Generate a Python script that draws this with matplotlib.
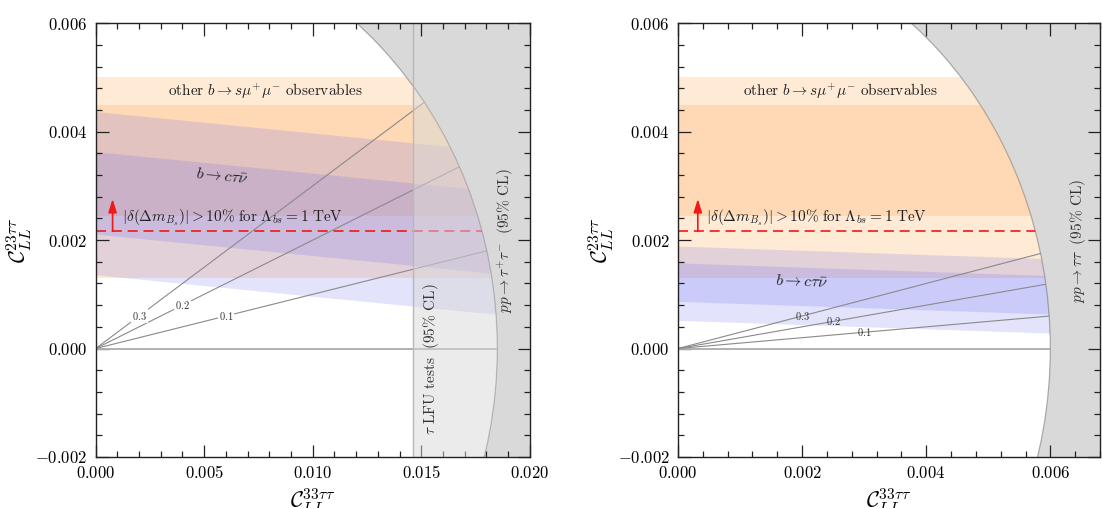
import matplotlib

matplotlib.use("Agg")
import matplotlib.pyplot as plt
import numpy as np
from matplotlib.patches import Ellipse
from matplotlib.ticker import FuncFormatter, MultipleLocator

plt.rcParams["mathtext.fontset"] = "cm"
plt.rcParams["font.family"] = "serif"
plt.rcParams["font.serif"] = ["DejaVu Serif"]

# --- data --------------------------------------------------------------
# pp -> tau tau exclusion contour (semi-axes of the allowed ellipse)
ellipse_a = [0.0185, 0.0060]
ellipse_b = [0.0079, 0.0077]

# other b -> s mu mu observables (horizontal bands): 1 sigma and 2 sigma
bsmumu_1s = [0.00244, 0.00450]
bsmumu_2s = [0.00130, 0.00500]

# b -> c tau nu bands: intercepts at C33 = 0 and common slope
cnu_2s_top = [0.00437, 0.00189]
cnu_1s_top = [0.00363, 0.00158]
cnu_1s_bot = [0.00211, 0.00087]
cnu_2s_bot = [0.00136, 0.00052]
cnu_slope = [-0.0395, -0.039]

# Delta m_Bs bound
dmbs_level = 0.00216
dmbs_arrow_top = 0.00276

# ratio lines C23/C33
ratios = [0.3, 0.2, 0.1]
ratio_label_x = [[0.0020, 0.0040, 0.0060], [0.0020, 0.0025, 0.0030]]

# tau LFU tests bound (left panel only)
lfu_x = 0.0146

xlims = [(0.0, 0.020), (0.0, 0.0068)]
xmajor = [0.005, 0.002]
xminor = [0.001, 0.0004]
ylim = (-0.002, 0.006)

orange = (1.0, 0.6, 0.2)
blue = (0.35, 0.35, 0.95)

fig = plt.figure(figsize=(11.02, 5.08), dpi=100)
axes = [fig.add_axes([0.0868, 0.1004, 0.394, 0.854]),
        fig.add_axes([0.6152, 0.1004, 0.383, 0.854])]

fmt = FuncFormatter(lambda v, p: f"${v:.3f}$")

for i, ax in enumerate(axes):
    x0, x1 = xlims[i]
    ax.set_xlim(x0, x1)
    ax.set_ylim(*ylim)
    ax.set_facecolor("#d9d9d9")

    ell = Ellipse((0, 0), 2 * ellipse_a[i], 2 * ellipse_b[i], facecolor="white",
                  edgecolor="#a8a8a8", lw=0.9, zorder=0.5)
    ax.add_patch(ell)

    def clip(artist):
        artist.set_clip_path(ell)
        return artist

    xs = np.array([0.0, x1])
    # orange bands
    clip(ax.fill_between(xs, bsmumu_2s[0], bsmumu_2s[1], color=orange, alpha=0.2, lw=0, zorder=1))
    clip(ax.fill_between(xs, bsmumu_1s[0], bsmumu_1s[1], color=orange, alpha=0.2, lw=0, zorder=1))
    # blue bands
    s = cnu_slope[i]
    clip(ax.fill_between(xs, cnu_2s_bot[i] + s * xs, cnu_2s_top[i] + s * xs,
                         color=blue, alpha=0.17, lw=0, zorder=1.1))
    clip(ax.fill_between(xs, cnu_1s_bot[i] + s * xs, cnu_1s_top[i] + s * xs,
                         color=blue, alpha=0.17, lw=0, zorder=1.1))

    # zero line and ratio lines
    clip(ax.plot(xs, [0, 0], color="#b0b0b0", lw=1.4, zorder=2)[0])
    for r, lx in zip(ratios, ratio_label_x[i]):
        clip(ax.plot(xs, r * xs, color="#8a8a8a", lw=0.8, zorder=2)[0])
        bbox = dict(boxstyle="square,pad=0.1", fc="white", ec="none") if i == 0 else None
        ax.text(lx, r * lx, f"${r}$", fontsize=7.5, ha="center", va="center",
                color="#333333", bbox=bbox, zorder=2.5)

    # Delta m_Bs line and arrow
    clip(ax.plot(xs, [dmbs_level, dmbs_level], color="#f01818", lw=1.2,
                 dashes=(6, 3.5), zorder=3)[0])
    ax_x = 0.00078 if i == 0 else 0.00032
    ax.annotate("", xy=(ax_x, dmbs_arrow_top), xytext=(ax_x, dmbs_level),
                arrowprops=dict(arrowstyle="-|>,head_width=0.25,head_length=0.8",
                                color="#f01818", lw=1.2, shrinkA=0, shrinkB=0), zorder=3)
    tx = 0.0012 if i == 0 else 0.00045
    ax.text(tx, 0.00241, r"$|\delta(\Delta m_{B_s})| > 10\%\ \mathrm{for}\ \Lambda_{bs} = 1\ \mathrm{TeV}$",
            fontsize=11, ha="left", va="center", color="#222222", zorder=4)

    # band labels
    ax.text(0.0078 if i == 0 else 0.00261, 0.00475,
            r"$\mathrm{other}\ b \to s\mu^{+}\mu^{-}\ \mathrm{observables}$",
            fontsize=11, ha="center", va="center", color="#222222", zorder=4)
    if i == 0:
        ax.text(0.0058, 0.00318, r"$b \to c\tau\bar{\nu}$", fontsize=11.5, rotation=-5.5,
                ha="center", va="center", color="#222222", zorder=4)
        ax.text(0.01892, 0.00199, r"$pp \to \tau^{+}\tau^{-}\ \ (95\%\ \mathrm{CL})$",
                fontsize=11, rotation=90, ha="center", va="center", color="#333333", zorder=4)
        # tau LFU tests
        clip(ax.axvspan(lfu_x, x1, color=(0.85, 0.85, 0.85), alpha=0.5, lw=0, zorder=3.5))
        ax.axvline(lfu_x, color="#b8b8b8", lw=1.0, zorder=3.6)
        ax.text(0.01547, -0.0002, r"$\tau\ \mathrm{LFU\ tests}\ \ (95\%\ \mathrm{CL})$",
                fontsize=11, rotation=90, ha="center", va="center", color="#333333", zorder=4)
    else:
        ax.text(0.00199, 0.00124, r"$b \to c\tau\bar{\nu}$", fontsize=11.5, rotation=-2,
                ha="center", va="center", color="#222222", zorder=4)
        ax.text(0.00645, 0.00198, r"$pp \to \tau\tau\ \ (95\%\ \mathrm{CL})$",
                fontsize=11, rotation=90, ha="center", va="center", color="#333333", zorder=4)

    ax.xaxis.set_major_locator(MultipleLocator(xmajor[i]))
    ax.xaxis.set_minor_locator(MultipleLocator(xminor[i]))
    ax.yaxis.set_major_locator(MultipleLocator(0.002))
    ax.yaxis.set_minor_locator(MultipleLocator(0.0004))
    ax.xaxis.set_major_formatter(fmt)
    ax.yaxis.set_major_formatter(fmt)
    ax.tick_params(which="both", direction="in", top=True, right=True, labelsize=12,
                   color="#222222", width=0.9)
    ax.tick_params(which="major", length=9, pad=6)
    ax.tick_params(which="minor", length=4.5)
    for sp in ax.spines.values():
        sp.set_color("#222222")
        sp.set_linewidth(1.0)
        sp.set_zorder(5)
    ax.set_xlabel(r"$\mathcal{C}_{LL}^{33\tau\tau}$", fontsize=16)
    ax.set_ylabel(r"$\mathcal{C}_{LL}^{23\tau\tau}$", fontsize=16)
    ax.xaxis.set_label_coords(0.5, -0.068)
    ax.yaxis.set_label_coords(-62.0 / (ax.get_position().width * 1102), 0.5)

fig.savefig("out.png", dpi=100)
